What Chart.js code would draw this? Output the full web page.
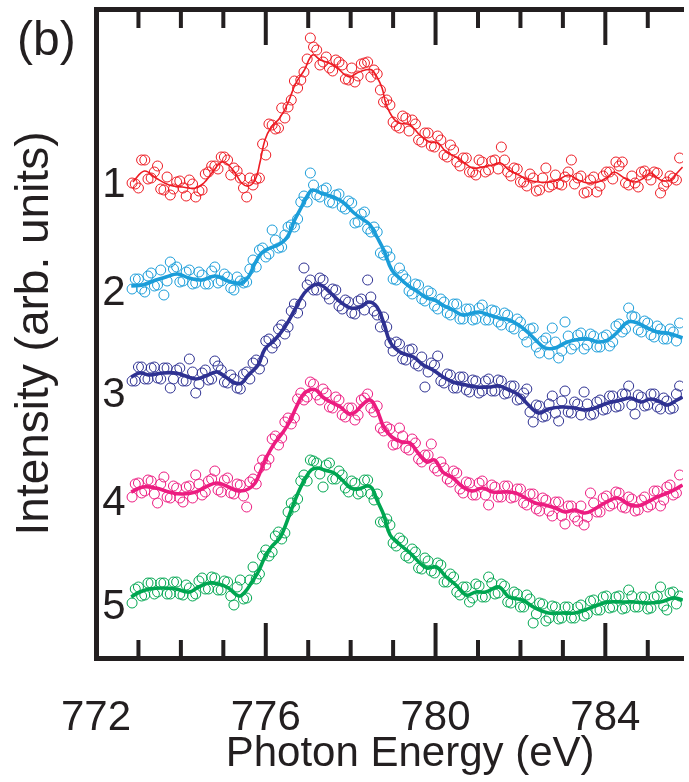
<!DOCTYPE html>
<html lang="en">
<head>
<meta charset="UTF-8">
<title>Spectra (b)</title>
<script src="https://cdn.jsdelivr.net/npm/chart.js"></script>
<style>
    html, body {
        margin: 0;
        padding: 0;
        background: #ffffff;
    }
    #wrap {
        width: 689px;
        height: 782px;
    }
</style>
</head>
<body>
<div id="wrap"><canvas id="spectra" width="689" height="782"></canvas></div>
<script>
// measured points (photon energy in eV), two interleaved sweeps shared by all spectra
const dotE = [
    772.85, 773.00, 773.15, 773.30, 773.45, 773.60, 773.75, 773.90, 774.05, 774.20,
    774.35, 774.50, 774.65, 774.80, 774.95, 775.10, 775.25, 775.40, 775.55, 775.70,
    775.85, 776.00, 776.15, 776.30, 776.45, 776.60, 776.75, 776.90, 777.05, 777.20,
    777.35, 777.50, 777.65, 777.80, 777.95, 778.10, 778.25, 778.40, 778.55, 778.70,
    778.85, 779.00, 779.15, 779.30, 779.45, 779.60, 779.75, 779.90, 780.05, 780.20,
    780.35, 780.50, 780.65, 780.80, 780.95, 781.10, 781.25, 781.40, 781.55, 781.70,
    781.85, 782.00, 782.15, 782.30, 782.45, 782.60, 782.75, 782.90, 783.05, 783.20,
    783.35, 783.50, 783.65, 783.80, 783.95, 784.10, 784.25, 784.40, 784.55, 784.70,
    784.85, 785.00, 785.15, 785.30, 785.45, 785.60, 785.75
];
const dotEb = [
    772.925, 773.075, 773.225, 773.375, 773.525, 773.675, 773.825, 773.975, 774.125, 774.275,
    774.425, 774.575, 774.725, 774.875, 775.025, 775.175, 775.325, 775.475, 775.625, 775.775,
    775.925, 776.075, 776.225, 776.375, 776.525, 776.675, 776.825, 776.975, 777.125, 777.275,
    777.425, 777.575, 777.725, 777.875, 778.025, 778.175, 778.325, 778.475, 778.625, 778.775,
    778.925, 779.075, 779.225, 779.375, 779.525, 779.675, 779.825, 779.975, 780.125, 780.275,
    780.425, 780.575, 780.725, 780.875, 781.025, 781.175, 781.325, 781.475, 781.625, 781.775,
    781.925, 782.075, 782.225, 782.375, 782.525, 782.675, 782.825, 782.975, 783.125, 783.275,
    783.425, 783.575, 783.725, 783.875, 784.025, 784.175, 784.325, 784.475, 784.625, 784.775,
    784.925, 785.075, 785.225, 785.375, 785.525, 785.675
];

// intensities (arb. units, spectra stacked with offsets)
const dots1 = [
    47.5, 47.0, 49.8, 48.0, 49.2, 46.8, 46.3, 47.6, 47.0, 47.8,
    46.1, 46.8, 48.6, 49.2, 50.1, 49.8, 49.0, 48.0, 46.1, 47.3,
    48.0, 50.3, 53.3, 53.0, 54.0, 55.8, 57.0, 58.6, 62.0, 60.8,
    59.6, 59.0, 59.8, 59.3, 57.8, 57.6, 59.4, 59.6, 58.8, 56.8,
    55.8, 53.6, 53.0, 54.0, 53.8, 51.8, 52.5, 51.2, 52.2, 50.3,
    51.3, 49.6, 50.0, 48.6, 48.3, 49.6, 48.8, 49.8, 51.1, 48.6,
    49.0, 47.6, 47.2, 48.0, 46.8, 49.0, 47.3, 47.4, 48.1, 49.8,
    48.0, 46.5, 47.8, 46.6, 48.2, 48.6, 49.6, 49.6, 47.3, 47.5,
    48.6, 48.3, 48.6, 46.5, 47.6, 48.0, 50.0
];
const dots1b = [
    47.4, 49.8, 47.9, 48.6, 46.9, 48.1, 46.9, 47.7, 46.2, 47.4,
    46.7, 48.4, 49.2, 48.9, 50.1, 48.3, 48.7, 47.0, 48.0, 47.9,
    51.4, 53.4, 52.9, 55.0, 55.1, 57.7, 57.8, 59.9, 61.1, 59.3,
    60.1, 58.7, 59.6, 57.9, 59.0, 58.2, 59.5, 58.1, 58.4, 55.6,
    55.3, 53.2, 54.2, 52.7, 53.4, 51.6, 52.5, 51.1, 51.8, 50.1,
    50.8, 49.2, 50.0, 48.6, 49.8, 48.6, 49.7, 48.9, 49.8, 48.2,
    48.9, 47.6, 48.4, 46.7, 48.0, 47.1, 48.3, 47.3, 48.6, 47.4,
    48.2, 46.6, 48.1, 47.2, 48.6, 47.9, 49.2, 47.5, 48.2, 47.1,
    48.7, 47.8, 48.5, 47.2, 48.2, 47.8
];
const dots2 = [
    36.9, 37.9, 36.6, 38.5, 37.3, 36.3, 39.6, 39.1, 37.7, 38.8,
    37.5, 38.3, 37.4, 39.1, 37.7, 38.1, 36.8, 37.7, 37.6, 39.8,
    40.8, 40.1, 42.8, 41.0, 42.3, 43.3, 43.9, 46.2, 48.5, 46.3,
    46.8, 45.6, 46.3, 45.1, 45.7, 43.5, 44.4, 42.9, 43.1, 40.5,
    40.7, 37.9, 39.0, 37.9, 36.4, 37.3, 35.7, 36.5, 34.9, 35.6,
    34.3, 35.4, 33.9, 34.9, 33.9, 35.3, 33.8, 34.7, 33.3, 34.3,
    32.9, 33.6, 31.6, 33.0, 30.5, 32.0, 33.0, 30.0, 33.6, 30.9,
    32.3, 30.9, 32.4, 31.1, 32.1, 31.2, 33.2, 32.6, 35.0, 34.1,
    32.6, 33.5, 32.1, 32.9, 31.9, 32.6, 33.5
];
const dots2b = [
    37.9, 36.9, 38.2, 37.2, 38.8, 37.7, 38.9, 37.6, 38.6, 37.4,
    38.6, 37.4, 38.7, 37.5, 38.4, 37.0, 38.1, 37.5, 38.9, 39.1,
    41.0, 40.4, 41.8, 41.1, 43.1, 43.1, 45.6, 45.6, 47.3, 46.1,
    47.0, 45.5, 46.4, 44.9, 45.5, 43.6, 44.6, 42.6, 42.6, 40.3,
    40.1, 37.8, 38.3, 36.7, 37.4, 35.9, 36.7, 35.2, 35.9, 34.5,
    35.4, 33.9, 34.9, 33.8, 35.0, 33.8, 34.8, 33.6, 34.5, 33.1,
    33.9, 32.3, 32.9, 31.1, 31.7, 30.4, 31.6, 30.7, 32.2, 31.3,
    32.5, 31.3, 32.2, 31.1, 32.3, 31.6, 33.4, 32.9, 34.2, 32.8,
    33.7, 32.3, 33.2, 31.9, 32.9, 31.7
];
const dots3 = [
    27.7, 29.1, 27.9, 29.0, 28.0, 29.0, 27.0, 28.8, 27.7, 29.9,
    26.5, 28.5, 27.8, 29.7, 28.8, 27.5, 27.9, 26.9, 28.6, 29.5,
    28.9, 31.7, 31.0, 32.9, 32.4, 34.7, 34.5, 39.0, 37.8, 36.8,
    37.8, 35.9, 36.8, 34.9, 35.6, 34.4, 35.9, 37.8, 34.7, 33.1,
    33.1, 30.7, 31.4, 29.8, 30.9, 29.2, 27.1, 29.5, 30.2, 27.5,
    28.3, 27.0, 28.1, 26.6, 27.7, 26.7, 27.9, 26.7, 27.7, 26.5,
    27.2, 25.9, 26.9, 23.6, 25.2, 24.2, 26.2, 23.7, 26.7, 24.5,
    25.4, 26.6, 24.3, 25.6, 24.8, 26.2, 25.1, 26.4, 27.2, 24.4,
    26.1, 25.3, 26.4, 24.9, 25.7, 25.0, 27.2
];
const dots3b = [
    27.7, 29.1, 27.9, 29.1, 27.9, 29.0, 27.9, 29.0, 27.7, 28.6,
    27.4, 28.8, 27.9, 29.2, 27.6, 28.3, 27.0, 28.4, 27.9, 29.8,
    29.7, 31.9, 31.5, 33.3, 33.1, 35.4, 35.4, 37.3, 36.8, 38.0,
    36.4, 36.9, 35.2, 35.8, 34.5, 35.7, 34.8, 36.1, 34.3, 34.1,
    31.5, 31.6, 29.9, 30.8, 29.4, 30.1, 28.6, 29.3, 27.7, 28.4,
    27.0, 28.1, 26.8, 27.8, 26.5, 27.7, 26.7, 27.8, 26.4, 27.2,
    25.8, 26.5, 24.6, 25.3, 24.1, 25.4, 24.5, 25.7, 24.6, 25.6,
    24.3, 25.4, 24.4, 25.8, 24.9, 26.2, 25.2, 26.4, 25.3, 26.3,
    25.2, 26.4, 25.1, 26.0, 24.9, 26.4
];
const dots4 = [
    16.1, 17.5, 16.7, 17.7, 15.5, 18.1, 16.0, 17.0, 15.6, 17.2,
    18.3, 16.3, 17.7, 18.7, 16.6, 18.0, 16.4, 17.3, 15.1, 17.9,
    19.0, 19.3, 21.9, 21.3, 23.6, 23.4, 25.9, 25.8, 27.6, 26.3,
    26.9, 25.1, 26.1, 24.3, 25.0, 23.8, 25.8, 26.4, 24.6, 23.0,
    23.1, 21.3, 23.0, 21.0, 21.9, 19.9, 20.3, 21.4, 18.7, 19.0,
    17.6, 18.5, 16.5, 17.5, 16.3, 17.7, 15.3, 17.1, 16.1, 17.2,
    16.1, 16.9, 15.3, 16.4, 14.7, 15.8, 14.2, 15.6, 13.4, 15.2,
    13.7, 13.3, 16.5, 14.6, 16.0, 15.2, 16.6, 15.1, 16.1, 14.7,
    15.8, 15.1, 16.7, 15.2, 17.1, 16.3, 18.3
];
const dots4b = [
    17.4, 16.5, 17.8, 16.4, 17.4, 16.1, 17.2, 16.0, 17.1, 16.0,
    17.4, 16.6, 17.9, 16.8, 17.8, 16.5, 17.4, 16.2, 17.6, 17.4,
    19.8, 19.9, 22.2, 22.0, 24.0, 24.0, 26.5, 26.1, 27.4, 25.8,
    26.5, 25.0, 25.8, 24.1, 25.0, 24.3, 26.0, 25.0, 25.2, 22.7,
    22.9, 21.4, 22.2, 20.8, 21.5, 19.6, 20.3, 19.0, 19.6, 17.9,
    18.7, 16.9, 17.6, 16.3, 17.5, 16.3, 17.3, 16.1, 17.2, 16.0,
    16.9, 15.5, 16.4, 14.9, 16.0, 14.7, 15.6, 14.2, 15.2, 14.1,
    15.2, 14.1, 15.5, 14.6, 16.2, 15.4, 16.5, 15.0, 15.9, 14.8,
    16.1, 15.3, 16.7, 15.8, 17.3, 16.5
];
const dots5 = [
    5.5, 7.1, 6.3, 7.5, 6.6, 7.5, 6.4, 7.6, 6.3, 7.0,
    6.4, 8.0, 6.9, 8.0, 6.8, 7.6, 5.3, 7.8, 6.0, 9.1,
    8.4, 10.8, 10.6, 12.6, 12.5, 15.5, 15.9, 18.3, 19.8, 19.5,
    17.1, 19.5, 17.9, 18.3, 16.6, 17.5, 16.6, 17.8, 15.8, 13.6,
    13.9, 11.5, 12.0, 10.2, 10.9, 9.0, 10.0, 8.7, 9.5, 7.6,
    8.4, 6.6, 7.1, 5.6, 7.4, 6.1, 8.1, 6.4, 7.4, 5.6,
    6.6, 5.1, 6.3, 3.5, 5.5, 3.7, 5.2, 3.9, 5.1, 4.0,
    5.1, 4.2, 5.7, 4.8, 6.1, 5.0, 6.1, 4.9, 6.8, 5.1,
    6.1, 4.9, 6.1, 7.1, 4.8, 6.6, 6.2
];
const dots5b = [
    6.9, 6.2, 7.5, 6.4, 7.5, 6.4, 7.6, 6.4, 7.3, 6.2,
    7.7, 6.9, 8.1, 6.8, 7.7, 6.2, 7.1, 5.9, 7.8, 7.9,
    10.2, 10.2, 12.2, 11.9, 14.6, 15.1, 17.7, 17.7, 19.7, 18.4,
    19.3, 17.9, 18.7, 17.0, 17.7, 16.4, 17.8, 16.4, 16.4, 13.6,
    13.3, 11.2, 11.7, 10.0, 10.6, 8.9, 9.7, 8.5, 9.3, 7.6,
    8.1, 6.3, 7.1, 6.0, 7.2, 6.1, 7.5, 6.5, 7.2, 5.5,
    6.4, 5.1, 5.9, 4.4, 5.4, 4.0, 5.1, 4.0, 5.1, 4.0,
    5.3, 4.4, 5.8, 4.8, 6.2, 5.1, 6.2, 5.0, 6.2, 5.1,
    6.1, 5.0, 6.2, 5.2, 6.5, 5.4
];

// smoothed curves
const fitE1 = [772.87, 773.14, 773.41, 773.72, 774.03, 774.35, 774.54, 774.73, 774.96, 775.12, 775.28, 775.43, 775.59, 775.75, 775.86, 775.98, 776.13, 776.33, 776.52, 776.71, 776.91, 777.10, 777.29, 777.49, 777.69, 777.87, 777.99, 778.15, 778.34, 778.50, 778.62, 778.74, 778.85, 779.09, 779.40, 779.63, 779.86, 780.06, 780.25, 780.48, 780.68, 780.87, 781.11, 781.34, 781.53, 781.73, 781.96, 782.19, 782.43, 782.66, 782.89, 783.13, 783.36, 783.59, 783.83, 784.06, 784.21, 784.45, 784.68, 784.91, 785.07, 785.30, 785.54, 785.69, 785.82];
const fitV1 = [47.6, 48.7, 48.0, 47.3, 47.1, 47.0, 47.5, 48.5, 49.6, 49.3, 48.5, 47.5, 47.2, 47.8, 49.5, 51.8, 53.1, 54.0, 55.5, 57.5, 58.8, 60.3, 59.8, 59.5, 59.0, 58.3, 58.1, 58.5, 58.8, 58.8, 58.1, 57.0, 55.2, 53.6, 53.3, 52.3, 51.6, 51.5, 50.6, 50.1, 49.5, 49.0, 49.1, 49.3, 49.5, 48.8, 48.3, 47.8, 47.6, 47.6, 47.8, 48.3, 47.8, 47.5, 47.6, 48.1, 48.6, 48.0, 47.6, 48.0, 48.5, 47.8, 47.8, 48.5, 49.1];

const fitE2 = [772.83, 773.10, 773.41, 773.65, 773.92, 774.19, 774.50, 774.81, 775.05, 775.28, 775.43, 775.59, 775.75, 775.90, 776.10, 776.29, 776.45, 776.56, 776.68, 776.83, 776.99, 777.10, 777.30, 777.45, 777.65, 777.84, 778.08, 778.31, 778.46, 778.62, 778.78, 778.97, 779.20, 779.40, 779.59, 779.79, 779.98, 780.17, 780.41, 780.64, 780.87, 781.03, 781.26, 781.49, 781.73, 781.96, 782.19, 782.43, 782.58, 782.82, 783.05, 783.28, 783.59, 783.83, 784.06, 784.29, 784.53, 784.76, 784.99, 785.22, 785.46, 785.69, 785.82];
const fitV2 = [37.2, 37.3, 37.8, 38.1, 38.4, 38.0, 37.8, 38.2, 37.8, 37.5, 37.5, 38.1, 39.5, 40.5, 41.0, 41.3, 41.8, 42.5, 43.8, 45.0, 46.3, 46.8, 46.5, 46.3, 46.0, 45.5, 44.5, 43.8, 43.3, 42.1, 40.8, 38.8, 37.8, 37.1, 36.6, 36.0, 35.8, 35.3, 34.8, 34.3, 34.5, 34.6, 34.3, 34.0, 33.8, 33.3, 32.5, 31.5, 31.0, 31.0, 31.5, 31.8, 31.9, 31.6, 31.8, 32.6, 33.6, 33.5, 33.0, 32.6, 32.5, 32.2, 32.0];

const fitE3 = [772.83, 773.03, 773.26, 773.57, 773.88, 774.11, 774.35, 774.58, 774.85, 775.05, 775.28, 775.43, 775.59, 775.82, 775.98, 776.21, 776.45, 776.68, 776.91, 777.14, 777.30, 777.53, 777.76, 778.00, 778.23, 778.43, 778.62, 778.78, 778.93, 779.16, 779.48, 779.71, 779.94, 780.18, 780.41, 780.72, 780.95, 781.26, 781.49, 781.73, 781.96, 782.19, 782.43, 782.66, 782.97, 783.28, 783.52, 783.75, 784.06, 784.37, 784.60, 784.84, 785.07, 785.30, 785.46, 785.69, 785.82];
const fitV3 = [28.1, 28.5, 28.3, 28.5, 28.5, 28.2, 27.9, 28.2, 28.6, 28.1, 27.5, 27.5, 28.3, 29.3, 30.9, 31.8, 33.1, 34.8, 36.5, 37.3, 37.3, 36.5, 35.6, 35.0, 35.1, 35.6, 35.1, 33.5, 31.6, 30.6, 30.1, 29.3, 28.8, 28.1, 27.6, 27.3, 27.1, 27.1, 27.2, 26.8, 26.3, 25.3, 24.5, 24.9, 25.1, 25.0, 24.8, 25.0, 25.5, 25.8, 26.0, 25.6, 25.9, 25.6, 25.3, 25.8, 26.1];

const fitE4 = [772.83, 773.10, 773.41, 773.72, 774.03, 774.35, 774.58, 774.85, 775.12, 775.36, 775.59, 775.75, 775.86, 776.02, 776.21, 776.41, 776.56, 776.72, 776.87, 777.03, 777.18, 777.34, 777.53, 777.76, 777.96, 778.11, 778.27, 778.46, 778.62, 778.78, 778.97, 779.20, 779.40, 779.59, 779.79, 779.98, 780.17, 780.41, 780.64, 780.87, 781.11, 781.34, 781.65, 781.88, 782.12, 782.35, 782.58, 782.82, 783.05, 783.28, 783.52, 783.75, 784.03, 784.29, 784.53, 784.76, 784.99, 785.22, 785.46, 785.62, 785.82];
const fitV4 = [16.6, 17.1, 17.0, 16.6, 16.4, 16.6, 17.1, 17.5, 17.1, 16.7, 16.9, 17.5, 18.5, 20.1, 21.5, 22.6, 23.6, 25.1, 26.3, 26.8, 26.8, 26.1, 25.6, 25.1, 24.4, 24.6, 25.3, 25.8, 24.8, 23.1, 22.1, 21.6, 21.5, 20.5, 19.6, 19.8, 18.6, 18.0, 17.1, 16.7, 17.0, 16.6, 16.6, 16.5, 16.0, 15.5, 15.3, 15.0, 14.6, 14.8, 14.5, 14.9, 15.6, 16.0, 15.4, 15.2, 15.6, 16.1, 16.5, 16.8, 17.3];

const fitE5 = [772.83, 773.03, 773.26, 773.57, 773.88, 774.19, 774.42, 774.66, 774.89, 775.12, 775.36, 775.51, 775.67, 775.82, 775.98, 776.13, 776.33, 776.45, 776.60, 776.76, 776.91, 777.07, 777.22, 777.38, 777.61, 777.80, 778.00, 778.19, 778.39, 778.50, 778.62, 778.78, 778.93, 779.17, 779.40, 779.63, 779.79, 780.02, 780.25, 780.48, 780.72, 780.95, 781.18, 781.49, 781.73, 782.04, 782.35, 782.66, 782.97, 783.28, 783.52, 783.83, 784.06, 784.37, 784.68, 784.99, 785.30, 785.62, 785.82];
const fitV5 = [6.1, 6.6, 6.9, 7.0, 6.9, 6.6, 7.1, 7.5, 7.4, 7.0, 6.2, 6.6, 7.6, 8.6, 10.1, 11.1, 12.0, 13.1, 14.8, 16.5, 17.8, 18.8, 19.0, 18.8, 18.5, 17.8, 17.0, 16.9, 17.2, 17.0, 15.8, 14.3, 12.3, 11.3, 10.5, 9.5, 9.0, 9.1, 8.1, 7.3, 6.3, 6.6, 6.6, 7.1, 6.1, 5.8, 5.0, 4.5, 4.5, 4.5, 4.8, 5.3, 5.6, 5.6, 5.6, 5.5, 5.6, 6.0, 5.8];

const seriesNames = ['1', '2', '3', '4', '5'];
const nameLevels = [47.3, 36.5, 26.3, 15.5, 5.1];
const tickLabels = [772, 776, 780, 784];

const colors = ['#ed1c24', '#1b9dd9', '#2e3192', '#ec1c80', '#00a651'];
const ink = '#231f20';
const fontFamily = "'Liberation Sans', Arial, Helvetica, sans-serif";

const dotSets = [[dots1, dots1b], [dots2, dots2b], [dots3, dots3b], [dots4, dots4b], [dots5, dots5b]];
const fitSets = [[fitE1, fitV1], [fitE2, fitV2], [fitE3, fitV3], [fitE4, fitV4], [fitE5, fitV5]];

const datasets = [];
dotSets.forEach(([a, b], i) => {
    const pts = dotE.map((e, k) => ({ x: e, y: a[k] }))
        .concat(dotEb.map((e, k) => ({ x: e, y: b[k] })));
    datasets.push({
        type: 'scatter',
        data: pts,
        pointRadius: 5,
        pointBorderWidth: 1,
        pointBorderColor: colors[i],
        pointBackgroundColor: 'rgba(255,255,255,0)',
        order: 2
    });
});
fitSets.forEach(([es, vs], i) => {
    datasets.push({
        type: 'line',
        data: es.map((e, k) => ({ x: e, y: vs[k] })),
        borderColor: colors[i],
        borderWidth: i === 0 ? 1.6 : 3.6,
        pointRadius: 0,
        tension: 0.4,
        fill: false,
        order: 1
    });
});

// ticks point into the frame, long ones at the labelled energies
const innerTicks = {
    id: 'innerTicks',
    afterDraw(chart) {
        const { ctx, chartArea, scales } = chart;
        ctx.save();
        ctx.strokeStyle = ink;
        ctx.lineWidth = 4;
        ['x', 'x2'].forEach(id => {
            const s = scales[id];
            s.ticks.forEach(t => {
                if (t.value <= s.min) return;
                const px = s.getPixelForValue(t.value);
                const major = tickLabels.includes(t.value);
                ctx.beginPath();
                if (s.position === 'bottom') {
                    ctx.moveTo(px, chartArea.bottom);
                    ctx.lineTo(px, chartArea.bottom - (major ? 35 : 18));
                } else {
                    ctx.moveTo(px, chartArea.top);
                    ctx.lineTo(px, chartArea.top + (major ? 36 : 19));
                }
                ctx.stroke();
            });
        });
        ctx.restore();
    }
};

// spectrum numbers, panel letter and the energy axis title
// (the title is centred on the full original axis, which ran past the cropped edge)
const annotations = {
    id: 'annotations',
    afterDraw(chart) {
        const { ctx, scales } = chart;
        ctx.save();
        ctx.fillStyle = ink;
        ctx.font = '42px ' + fontFamily;
        ctx.textAlign = 'right';
        ctx.textBaseline = 'middle';
        const nx = scales.x.getPixelForValue(772.7);
        seriesNames.forEach((n, i) => {
            ctx.fillText(n, nx, scales.y.getPixelForValue(nameLevels[i]));
        });
        ctx.textAlign = 'center';
        ctx.fillText('Photon Energy (eV)', scales.x.getPixelForValue(779.4), 754);
        ctx.font = '48px ' + fontFamily;
        ctx.textAlign = 'left';
        ctx.textBaseline = 'alphabetic';
        ctx.fillText('(b)', 17, 55);
        ctx.restore();
    }
};

new Chart(document.getElementById('spectra'), {
    type: 'scatter',
    data: { datasets: datasets },
    options: {
        responsive: false,
        animation: false,
        devicePixelRatio: 1,
        layout: { padding: 0 },
        plugins: {
            legend: { display: false },
            tooltip: { enabled: false }
        },
        scales: {
            x: {
                type: 'linear',
                position: 'bottom',
                min: 772,
                max: 785.83,
                ticks: {
                    stepSize: 1,
                    includeBounds: false,
                    autoSkip: false,
                    maxRotation: 0,
                    padding: 35,
                    color: ink,
                    font: { family: fontFamily, size: 42 },
                    callback: v => tickLabels.includes(v) ? String(v) : ''
                },
                grid: { drawOnChartArea: false, drawTicks: false },
                border: { display: true, width: 5, color: ink },
                afterFit: s => { s.height = 124; }
            },
            x2: {
                type: 'linear',
                position: 'top',
                min: 772,
                max: 785.83,
                ticks: { display: false, stepSize: 1, includeBounds: false },
                grid: { drawOnChartArea: false, drawTicks: false },
                border: { display: true, width: 5, color: ink },
                afterFit: s => { s.height = 9; }
            },
            y: {
                type: 'linear',
                position: 'left',
                min: 0,
                max: 64.9,
                ticks: { display: false },
                grid: { drawOnChartArea: false, drawTicks: false },
                border: { display: true, width: 5, color: ink },
                title: {
                    display: true,
                    text: 'Intensity (arb. units)',
                    color: ink,
                    font: { family: fontFamily, size: 46 },
                    padding: { top: 8, bottom: 0 }
                },
                afterFit: s => { s.width = 96; }
            }
        }
    },
    plugins: [innerTicks, annotations]
});
</script>
</body>
</html>
